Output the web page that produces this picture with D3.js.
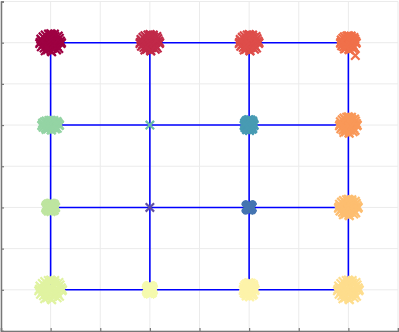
<!DOCTYPE html>
<html><head><meta charset="utf-8">
<script src="https://cdn.jsdelivr.net/npm/d3@7"></script>
<style>html,body{margin:0;padding:0;background:#fff;}svg{display:block;}</style>
</head><body>
<script>
// Grid cells visited in spiral order (column, row)
const cellX = [0,1,2,3,3,3,3,2,1,0,0,0,1,2,2,1];
const cellY = [3,3,3,3,2,1,0,0,0,0,1,2,2,2,1,1];
// Jitter spread of each cluster (data units)
const spreadX = [0.11,0.10,0.10,0.08,0.09,0.10,0.11,0.06,0.035,0.12,0.05,0.09,0,0.05,0.03,0];
const spreadY = [0.11,0.10,0.10,0.085,0.10,0.10,0.12,0.085,0.05,0.12,0.05,0.06,0,0.065,0.03,0];
// Fixed scatter pattern of the markers inside a cluster (unit disk)
const offsets = [[0,0],[0.5,0.1],[-0.4,0.3],[0.2,-0.6],[-0.7,-0.2],[0.8,0.5],[-0.3,-0.8],[0.6,-0.4],
  [-0.9,0.4],[0.1,0.9],[0.95,-0.1],[-0.5,0.85],[0.4,0.7],[-0.1,-0.3],[0.3,0.35],[-0.6,-0.6],
  [0.7,0.75],[-0.85,-0.45],[0.05,-0.95],[-0.25,0.55],[0.55,-0.8],[-0.95,0.05],[0.9,0.2],[-0.4,-0.1],
  [0.15,0.2],[-0.7,0.65],[0.45,-0.15],[-0.2,0.95],[0.75,-0.65],[-0.5,-0.9],[0.25,-0.25],[-0.15,0.1],
  [1.0,0.0],[0.0,1.0],[-1.0,-0.1],[0.1,-1.0],[0.65,0.3],[-0.35,-0.5],[0.35,0.95],[-0.8,0.2]];
// A stray marker beside cluster 3
const strayIdx = [3];
const strayDX = [0.07];
const strayDY = [-0.155];
const ticks = [-0.5,0,0.5,1,1.5,2,2.5,3,3.5];
const lineVals = [0,1,2,3];

const W = 399, H = 332;
const svg = d3.select("body").append("svg").attr("width", W).attr("height", H);
const x = d3.scaleLinear().domain([-0.5, 3.5]).range([1, 398]);
const y = d3.scaleLinear().domain([-0.5, 3.5]).range([331, 1.5]);

// grid
const grid = svg.append("g");
grid.selectAll("line.gx").data(ticks).join("line")
  .attr("x1", d => x(d)).attr("x2", d => x(d)).attr("y1", y(-0.5)).attr("y2", y(3.5))
  .attr("stroke", "#ebebeb").attr("stroke-width", 1);
grid.selectAll("line.gy").data(ticks).join("line")
  .attr("y1", d => y(d)).attr("y2", d => y(d)).attr("x1", x(-0.5)).attr("x2", x(3.5))
  .attr("stroke", "#ebebeb").attr("stroke-width", 1);

// axes (ticks inward, no labels)
const xAxis = d3.axisBottom(x).tickValues(ticks).tickSize(-3).tickFormat("");
const yAxis = d3.axisLeft(y).tickValues(ticks).tickSize(-3).tickFormat("");
const gx = svg.append("g").attr("transform", `translate(0,${y(-0.5)})`).call(xAxis);
const gy = svg.append("g").attr("transform", `translate(${x(-0.5)},0)`).call(yAxis);
[gx, gy].forEach(g => {
  g.select(".domain").attr("stroke", "#777").attr("stroke-width", 1.5);
  g.selectAll(".tick line").attr("stroke", "#777").attr("stroke-width", 1.2);
});

// blue lattice
const lat = svg.append("g");
lineVals.forEach(v => {
  lat.append("line").attr("x1", x(0)).attr("x2", x(3)).attr("y1", y(v)).attr("y2", y(v))
    .attr("stroke", "#0000ff").attr("stroke-width", 1.6);
  lat.append("line").attr("x1", x(v)).attr("x2", x(v)).attr("y1", y(0)).attr("y2", y(3))
    .attr("stroke", "#0000ff").attr("stroke-width", 1.6);
});

// markers
const pts = [];
cellX.forEach((cx, i) => {
  const col = d3.interpolateSpectral(i / (cellX.length - 1));
  if (spreadX[i] === 0 && spreadY[i] === 0) {
    pts.push({px: cx, py: cellY[i], col});
  } else {
    offsets.forEach(o => pts.push({px: cx + o[0] * spreadX[i], py: cellY[i] + o[1] * spreadY[i], col}));
  }
});
strayIdx.forEach((i, k) => {
  pts.push({px: cellX[i] + strayDX[k], py: cellY[i] + strayDY[k], col: d3.interpolateSpectral(i / (cellX.length - 1))});
});
const s = 4.2;
svg.append("g").selectAll("path").data(pts).join("path")
  .attr("d", d => {
    const X = x(d.px), Y = y(d.py);
    return `M${X - s},${Y - s}L${X + s},${Y + s}M${X - s},${Y + s}L${X + s},${Y - s}`;
  })
  .attr("stroke", d => d.col).attr("stroke-width", 2.2).attr("fill", "none");
</script>
</body></html>
